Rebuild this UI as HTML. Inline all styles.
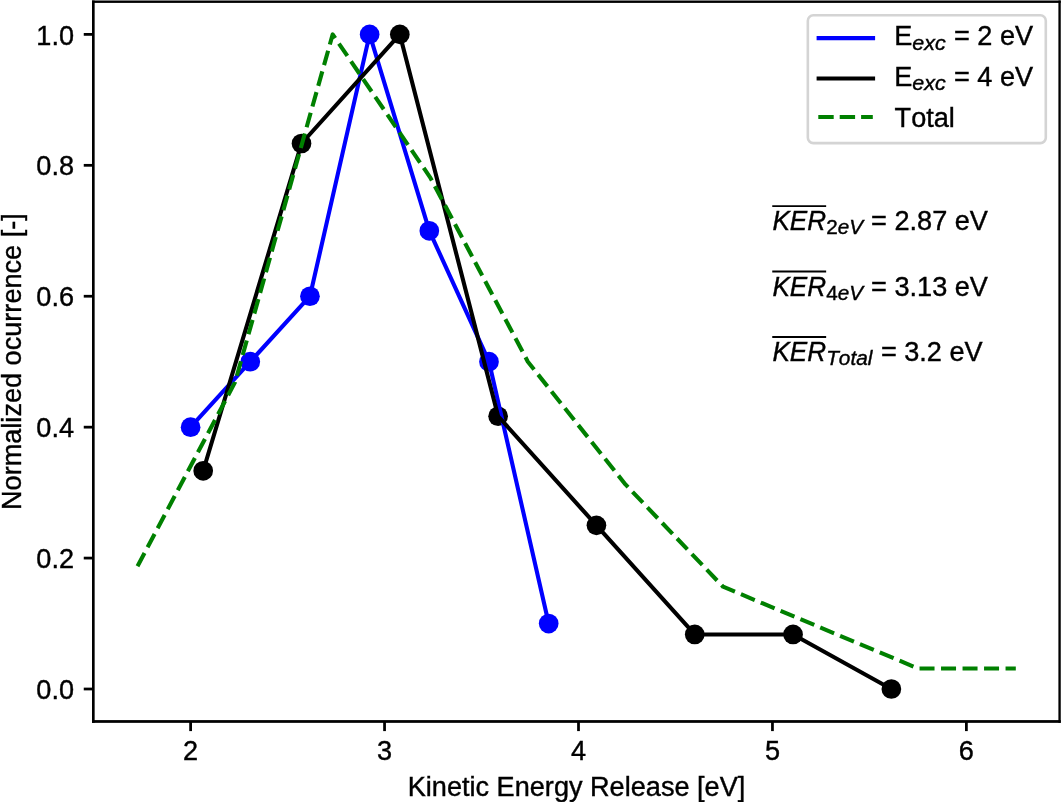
<!DOCTYPE html>
<html><head><meta charset="utf-8"><title>KER</title>
<style>
html,body{margin:0;padding:0;background:#fff;}
body{width:1061px;height:802px;overflow:hidden;}
svg{display:block;will-change:transform;}
text{font-family:"Liberation Sans",sans-serif;font-size:27.12px;fill:#000;stroke:#000;stroke-width:0.4px;font-kerning:none;font-feature-settings:"kern" 0,"liga" 0;}
.it{font-style:italic;}
.sub{font-size:19.8px;}
</style></head><body>
<svg width="1061" height="802" viewBox="0 0 1061 802">
<rect x="0" y="0" width="1061" height="802" fill="#fff"/>

<g fill="#000">
<circle cx="203.20" cy="470.80" r="9.85"/>
<circle cx="301.51" cy="143.50" r="9.85"/>
<circle cx="399.82" cy="34.40" r="9.85"/>
<circle cx="498.13" cy="416.25" r="9.85"/>
<circle cx="596.44" cy="525.35" r="9.85"/>
<circle cx="694.75" cy="634.45" r="9.85"/>
<circle cx="793.06" cy="634.45" r="9.85"/>
<circle cx="891.37" cy="689.00" r="9.85"/>
</g><g fill="#0000ff">
<circle cx="190.60" cy="427.16" r="9.85"/>
<circle cx="250.28" cy="361.70" r="9.85"/>
<circle cx="309.96" cy="296.24" r="9.85"/>
<circle cx="369.64" cy="34.40" r="9.85"/>
<circle cx="429.32" cy="230.78" r="9.85"/>
<circle cx="489.00" cy="361.70" r="9.85"/>
<circle cx="548.68" cy="623.54" r="9.85"/>
</g>
<polyline points="190.60,427.16 250.28,361.70 309.96,296.24 369.64,34.40 429.32,230.78 489.00,361.70 548.68,623.54" fill="none" stroke="#0000ff" stroke-width="4.1" stroke-linejoin="round" stroke-linecap="square"/>
<polyline points="203.20,470.80 301.51,143.50 399.82,34.40 498.13,416.25 596.44,525.35 694.75,634.45 793.06,634.45 891.37,689.00" fill="none" stroke="#000" stroke-width="4.1" stroke-linejoin="round" stroke-linecap="square"/>
<polyline points="137.50,566.26 235.09,382.16 332.68,34.40 430.27,177.59 527.86,361.70 625.45,484.44 723.04,586.72 820.63,627.63 918.22,668.54 1015.81,668.54" fill="none" stroke="#008000" stroke-width="4.1" stroke-linejoin="round" stroke-dasharray="15.01 6.495"/>
<g fill="#000"><rect x="92.0" y="0.5" width="2.65" height="722.35"/><rect x="92.0" y="720.1" width="968.75" height="2.75"/><rect x="1058.4" y="0.5" width="2.35" height="722.35"/><rect x="92.0" y="0.5" width="968.75" height="2.4"/></g>
<g stroke="#000" stroke-width="2.75">
<line x1="190.60" y1="721.5" x2="190.60" y2="731.1"/>
<line x1="384.55" y1="721.5" x2="384.55" y2="731.1"/>
<line x1="578.50" y1="721.5" x2="578.50" y2="731.1"/>
<line x1="772.45" y1="721.5" x2="772.45" y2="731.1"/>
<line x1="966.40" y1="721.5" x2="966.40" y2="731.1"/>
<line x1="93.35" y1="689.00" x2="83.75" y2="689.00"/>
<line x1="93.35" y1="558.08" x2="83.75" y2="558.08"/>
<line x1="93.35" y1="427.16" x2="83.75" y2="427.16"/>
<line x1="93.35" y1="296.24" x2="83.75" y2="296.24"/>
<line x1="93.35" y1="165.32" x2="83.75" y2="165.32"/>
<line x1="93.35" y1="34.40" x2="83.75" y2="34.40"/>
</g>
<text x="190.60" y="759.6" text-anchor="middle">2</text>
<text x="384.55" y="759.6" text-anchor="middle">3</text>
<text x="578.50" y="759.6" text-anchor="middle">4</text>
<text x="772.45" y="759.6" text-anchor="middle">5</text>
<text x="966.40" y="759.6" text-anchor="middle">6</text>
<text x="74.0" y="699.15" text-anchor="end">0.0</text>
<text x="74.0" y="568.23" text-anchor="end">0.2</text>
<text x="74.0" y="437.31" text-anchor="end">0.4</text>
<text x="74.0" y="306.39" text-anchor="end">0.6</text>
<text x="74.0" y="175.47" text-anchor="end">0.8</text>
<text x="74.0" y="44.55" text-anchor="end">1.0</text>
<text x="576.5" y="796.0" text-anchor="middle">Kinetic Energy Release [eV]</text>
<text transform="translate(20.5,361.6) rotate(-90)" text-anchor="middle">Normalized ocurrence [-]</text>
<rect x="807.85" y="15.25" width="237.95" height="127.9" rx="5.5" ry="5.5" fill="#fff" fill-opacity="0.8" stroke="#d4d4d4" stroke-width="2.6"/>
<line x1="816.6" y1="38.1" x2="875.1" y2="38.1" stroke="#0000ff" stroke-width="4.1"/>
<line x1="816.6" y1="78.55" x2="875.1" y2="78.55" stroke="#000" stroke-width="4.1"/>
<line x1="818.3" y1="117.05" x2="872.8" y2="117.05" stroke="#008000" stroke-width="4.1" stroke-dasharray="15.4 6.0"/>
<text x="894.2" y="45.2">E</text>
<text class="it sub" transform="translate(912.30,49.60) scale(1.084,1)">exc</text>
<text x="954.0" y="45.2">= 2 eV</text>
<text x="894.2" y="85.8">E</text>
<text class="it sub" transform="translate(912.30,90.20) scale(1.084,1)">exc</text>
<text x="954.0" y="85.8">= 4 eV</text>
<text x="894.6" y="126.8">Total</text>
<text class="it" style="font-size:27.5px" transform="translate(772.45,230.38) scale(0.95,1)">KER</text>
<line x1="772.25" y1="206.08" x2="826.15" y2="206.08" stroke="#000" stroke-width="1.9"/>
<text class="it sub" transform="translate(826.15,234.38) scale(1.045,1)"><tspan font-style="normal">2</tspan>eV</text>
<text x="871.08" y="230.38">= 2.87 eV</text>
<text class="it" style="font-size:27.5px" transform="translate(772.45,295.84) scale(0.95,1)">KER</text>
<line x1="772.25" y1="271.54" x2="826.15" y2="271.54" stroke="#000" stroke-width="1.9"/>
<text class="it sub" transform="translate(826.15,299.84) scale(1.045,1)"><tspan font-style="normal">4</tspan>eV</text>
<text x="871.08" y="295.84">= 3.13 eV</text>
<text class="it" style="font-size:27.5px" transform="translate(772.45,361.30) scale(0.95,1)">KER</text>
<line x1="772.25" y1="337.00" x2="826.15" y2="337.00" stroke="#000" stroke-width="1.9"/>
<text class="it sub" transform="translate(826.15,365.30) scale(1.05,1)">Total</text>
<text x="880.88" y="361.30">= 3.2 eV</text>
</svg></body></html>
